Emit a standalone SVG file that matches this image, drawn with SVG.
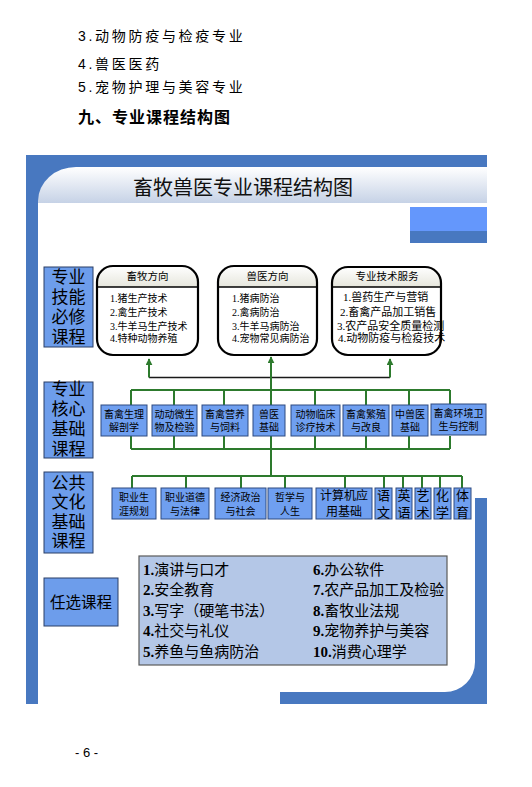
<svg xmlns="http://www.w3.org/2000/svg" width="532" height="787" viewBox="0 0 532 787">
<defs>
<linearGradient id="hdr" x1="0" y1="0" x2="0" y2="1"><stop offset="0" stop-color="#ffffff"/><stop offset="1" stop-color="#c6d2e6"/></linearGradient>
<linearGradient id="boxhdr" x1="0" y1="0" x2="0" y2="1"><stop offset="0" stop-color="#ffffff"/><stop offset="1" stop-color="#e6e6dc"/></linearGradient>
<marker id="arr" viewBox="0 0 10 10" refX="9" refY="5" markerWidth="7" markerHeight="7" markerUnits="userSpaceOnUse" orient="auto"><path d="M0,0 L10,5 L0,10 Z" fill="#2d7a2d"/></marker>
<style>
.pg{font-family:"Liberation Sans","Noto Sans CJK SC",sans-serif;font-size:14px;letter-spacing:2.7px;fill:#000}
.hd{font-family:"Liberation Sans","Noto Sans CJK SC",sans-serif;font-size:16px;font-weight:bold;letter-spacing:1px;fill:#000}
.ttl{font-family:"Liberation Sans","Noto Sans CJK SC",sans-serif;font-size:20px;fill:#111;text-anchor:middle}
.lbl{fill:#6d9deb;stroke:#2b3f66;stroke-width:1}
.lt{font-family:"Liberation Sans","Noto Sans CJK SC",sans-serif;font-size:17px;fill:#000;text-anchor:middle}
.rb{fill:none;stroke:#000;stroke-width:2.2}
.rbh{fill:url(#boxhdr)}
.bt{font-family:"Liberation Serif","Noto Sans CJK SC",serif;font-size:10px;fill:#000}
.bh{font-family:"Liberation Sans","Noto Sans CJK SC",sans-serif;font-size:10.5px;fill:#000;text-anchor:middle}
.cb{fill:#6f9ff0;stroke:#2e4a80;stroke-width:1}
.ct{font-family:"Liberation Sans","Noto Sans CJK SC",sans-serif;font-size:10px;fill:#000;text-anchor:middle}
.g{stroke:#2d7a2d;stroke-width:2;fill:none}
.k{stroke:#1a1a1a;stroke-width:1.5;fill:none}
.el{font-family:"Liberation Serif","Noto Sans CJK SC",serif;font-size:15px;fill:#000}
.frame{fill:#4878c0}
</style>
</defs>
<rect width="532" height="787" fill="#ffffff"/>

<g id="page-text">
<text class="pg" x="78" y="41">3.动物防疫与检疫专业</text>
<text class="pg" x="78" y="68.6">4.兽医医药</text>
<text class="pg" x="78" y="92">5.宠物护理与美容专业</text>
<text class="hd" x="78" y="122.5">九、专业课程结构图</text>
<text x="75" y="757" font-family="Liberation Sans, sans-serif" font-size="13" fill="#000">- 6 -</text>
</g>

<g id="frame">
<rect class="frame" x="26" y="155" width="461" height="48"/>
<rect class="frame" x="26" y="155" width="12" height="549"/>
<path d="M38,203 V201 A38,34 0 0 1 76,167 H487 V203 Z" fill="url(#hdr)"/>
<rect x="410" y="207" width="77" height="24" fill="#6497fc"/>
<rect class="frame" x="410" y="231" width="77" height="12"/>
<path class="frame" d="M475,498 H487 V704 H280 V692 H445 A30,30 0 0 0 475,662 Z"/>
<text class="ttl" x="243" y="194.6">畜牧兽医专业课程结构图</text>
</g>

<g id="connectors">
<path class="k" d="M149,377.5 H390"/>
<path class="g" d="M149,377.5 V359" marker-end="url(#arr)"/>
<path class="g" d="M390,377.5 V359" marker-end="url(#arr)"/>
<path class="g" d="M271,476 V357" marker-end="url(#arr)"/>
<path class="g" d="M131,390 H450 M131,390 V405 M174,390 V405 M224,390 V405 M315,390 V405 M366,390 V405 M409,390 V405 M450,390 V405"/>
<path class="g" d="M131,449 H450 M131,449 V436 M174,449 V436 M224,449 V436 M315,449 V436 M366,449 V436 M409,449 V436 M450,449 V436"/>
<path class="g" d="M132,476 H462 M132,476 V488 M186,476 V488 M241,476 V488 M285,476 V488 M345,476 V488 M384,476 V488 M403,476 V488 M422,476 V488 M440,476 V488 M462,476 V488"/>
</g>

<g id="label-skill">
<rect class="lbl" x="44" y="267" width="49" height="80"/>
<text class="lt"><tspan x="68.5" y="282.5">专业</tspan><tspan x="68.5" y="302.5">技能</tspan><tspan x="68.5" y="322.5">必修</tspan><tspan x="68.5" y="342.5">课程</tspan></text>
</g>
<g id="label-core">
<rect class="lbl" x="44" y="382" width="49" height="76"/>
<text class="lt"><tspan x="68.5" y="395">专业</tspan><tspan x="68.5" y="415">核心</tspan><tspan x="68.5" y="435">基础</tspan><tspan x="68.5" y="455">课程</tspan></text>
</g>
<g id="label-public">
<rect class="lbl" x="44" y="472" width="49" height="81"/>
<text class="lt"><tspan x="68.5" y="488.5">公共</tspan><tspan x="68.5" y="508">文化</tspan><tspan x="68.5" y="527.5">基础</tspan><tspan x="68.5" y="547">课程</tspan></text>
</g>
<g id="label-elective">
<rect class="lbl" x="44" y="578" width="74" height="48"/>
<text class="lt" x="81" y="608" style="font-size:15.5px">任选课程</text>
</g>

<g id="dir-animal">
<path class="rbh" d="M97,287 V282 A16,16 0 0 1 113,266 H182 A16,16 0 0 1 198,282 V287 Z"/>
<rect class="rb" x="97" y="266" width="101" height="89" rx="16"/>
<line x1="97" y1="287" x2="198" y2="287" stroke="#000" stroke-width="1.5"/>
<text class="bh" x="147.5" y="280">畜牧方向</text>
<text class="bt"><tspan x="110" y="301.8">1.猪生产技术</tspan><tspan x="110" y="316.3">2.禽生产技术</tspan><tspan x="110" y="329.8">3.牛羊马生产技术</tspan><tspan x="110" y="342.3">4.特种动物养殖</tspan></text>
</g>
<g id="dir-vet">
<path class="rbh" d="M218,287 V282 A16,16 0 0 1 234,266 H301 A16,16 0 0 1 317,282 V287 Z"/>
<rect class="rb" x="218" y="266" width="99" height="89" rx="16"/>
<line x1="218" y1="287" x2="317" y2="287" stroke="#000" stroke-width="1.5"/>
<text class="bh" x="267.5" y="280">兽医方向</text>
<text class="bt"><tspan x="232" y="301.8">1.猪病防治</tspan><tspan x="232" y="316.3">2.禽病防治</tspan><tspan x="232" y="329.8">3.牛羊马病防治</tspan><tspan x="232" y="342.3">4.宠物常见病防治</tspan></text>
</g>
<g id="dir-service">
<path class="rbh" d="M332,287 V283 A16,16 0 0 1 348,267 H425 A16,16 0 0 1 441,283 V287 Z"/>
<rect class="rb" x="332" y="267" width="109" height="88" rx="16"/>
<line x1="332" y1="287" x2="441" y2="287" stroke="#000" stroke-width="1.5"/>
<text class="bh" x="387" y="280">专业技术服务</text>
<text class="bt" style="font-size:11px"><tspan x="343" y="301.3">1.兽药生产与营销</tspan><tspan x="340" y="315.8">2.畜禽产品加工销售</tspan><tspan x="337" y="329.8">3.农产品安全质量检测</tspan><tspan x="338" y="341.8">4.动物防疫与检疫技术</tspan></text>
</g>

<g id="core-1"><rect class="cb" x="101" y="405" width="46" height="31"/><text class="ct"><tspan x="124" y="417.8">畜禽生理</tspan><tspan x="124" y="431.3">解剖学</tspan></text></g>
<g id="core-2"><rect class="cb" x="152" y="405" width="45" height="31"/><text class="ct"><tspan x="174.5" y="417.8">动动微生</tspan><tspan x="174.5" y="431.3">物及检验</tspan></text></g>
<g id="core-3"><rect class="cb" x="202" y="405" width="46" height="31"/><text class="ct"><tspan x="225" y="417.8">畜禽营养</tspan><tspan x="225" y="431.3">与饲料</tspan></text></g>
<g id="core-4"><rect class="cb" x="253" y="405" width="32" height="31"/><text class="ct"><tspan x="269" y="417.8">兽医</tspan><tspan x="269" y="431.3">基础</tspan></text></g>
<g id="core-5"><rect class="cb" x="291" y="405" width="49" height="31"/><text class="ct"><tspan x="315.5" y="417.8">动物临床</tspan><tspan x="315.5" y="431.3">诊疗技术</tspan></text></g>
<g id="core-6"><rect class="cb" x="343" y="405" width="46" height="31"/><text class="ct"><tspan x="366" y="417.8">畜禽繁殖</tspan><tspan x="366" y="431.3">与改良</tspan></text></g>
<g id="core-7"><rect class="cb" x="392" y="405" width="36" height="31"/><text class="ct"><tspan x="410" y="417.8">中兽医</tspan><tspan x="410" y="431.3">基础</tspan></text></g>
<g id="core-8"><rect class="cb" x="431" y="404" width="55" height="31"/><text class="ct"><tspan x="458.5" y="416.8">畜禽环境卫</tspan><tspan x="458.5" y="430.3">生与控制</tspan></text></g>

<g id="pub-1"><rect class="cb" x="112" y="488" width="44" height="31"/><text class="ct"><tspan x="134" y="500.8">职业生</tspan><tspan x="134" y="514.8">涯规划</tspan></text></g>
<g id="pub-2"><rect class="cb" x="161" y="488" width="48" height="31"/><text class="ct"><tspan x="185" y="500.8">职业道德</tspan><tspan x="185" y="514.8">与法律</tspan></text></g>
<g id="pub-3"><rect class="cb" x="215" y="488" width="51" height="31"/><text class="ct"><tspan x="240.5" y="500.8">经济政治</tspan><tspan x="240.5" y="514.8">与社会</tspan></text></g>
<g id="pub-4"><rect class="cb" x="268" y="488" width="44" height="31"/><text class="ct"><tspan x="290" y="500.8">哲学与</tspan><tspan x="290" y="514.8">人生</tspan></text></g>
<g id="pub-5"><rect class="cb" x="316" y="488" width="56" height="31"/><text class="ct" style="font-size:12px"><tspan x="344" y="499.6">计算机应</tspan><tspan x="344" y="515.6">用基础</tspan></text></g>
<g id="pub-6"><rect class="cb" x="375" y="488" width="17" height="31"/><text class="ct" style="font-size:13px"><tspan x="383.5" y="500">语</tspan><tspan x="383.5" y="517">文</tspan></text></g>
<g id="pub-7"><rect class="cb" x="396" y="488" width="16" height="31"/><text class="ct" style="font-size:13px"><tspan x="404" y="500">英</tspan><tspan x="404" y="517">语</tspan></text></g>
<g id="pub-8"><rect class="cb" x="415" y="488" width="16" height="31"/><text class="ct" style="font-size:13px"><tspan x="423" y="500">艺</tspan><tspan x="423" y="517">术</tspan></text></g>
<g id="pub-9"><rect class="cb" x="434" y="488" width="17" height="31"/><text class="ct" style="font-size:13px"><tspan x="442.5" y="500">化</tspan><tspan x="442.5" y="517">学</tspan></text></g>
<g id="pub-10"><rect class="cb" x="454" y="488" width="17" height="31"/><text class="ct" style="font-size:13px"><tspan x="462.5" y="500">体</tspan><tspan x="462.5" y="517">育</tspan></text></g>

<g id="elective">
<rect x="139" y="556" width="308" height="109" fill="#b4c7e7" stroke="#5a5a5a" stroke-width="1.2"/>
<text class="el"><tspan x="143" y="574.7" font-weight="bold">1.</tspan><tspan>演讲与口才</tspan><tspan x="143" y="595.2" font-weight="bold">2.</tspan><tspan>安全教育</tspan><tspan x="143" y="615.7" font-weight="bold">3.</tspan><tspan>写字（硬笔书法）</tspan><tspan x="143" y="636.2" font-weight="bold">4.</tspan><tspan>社交与礼仪</tspan><tspan x="143" y="656.7" font-weight="bold">5.</tspan><tspan>养鱼与鱼病防治</tspan></text>
<text class="el"><tspan x="313" y="574.7" font-weight="bold">6.</tspan><tspan>办公软件</tspan><tspan x="313" y="595.2" font-weight="bold">7.</tspan><tspan>农产品加工及检验</tspan><tspan x="313" y="615.7" font-weight="bold">8.</tspan><tspan>畜牧业法规</tspan><tspan x="313" y="636.2" font-weight="bold">9.</tspan><tspan>宠物养护与美容</tspan><tspan x="313" y="656.7" font-weight="bold">10.</tspan><tspan>消费心理学</tspan></text>
</g>
</svg>
